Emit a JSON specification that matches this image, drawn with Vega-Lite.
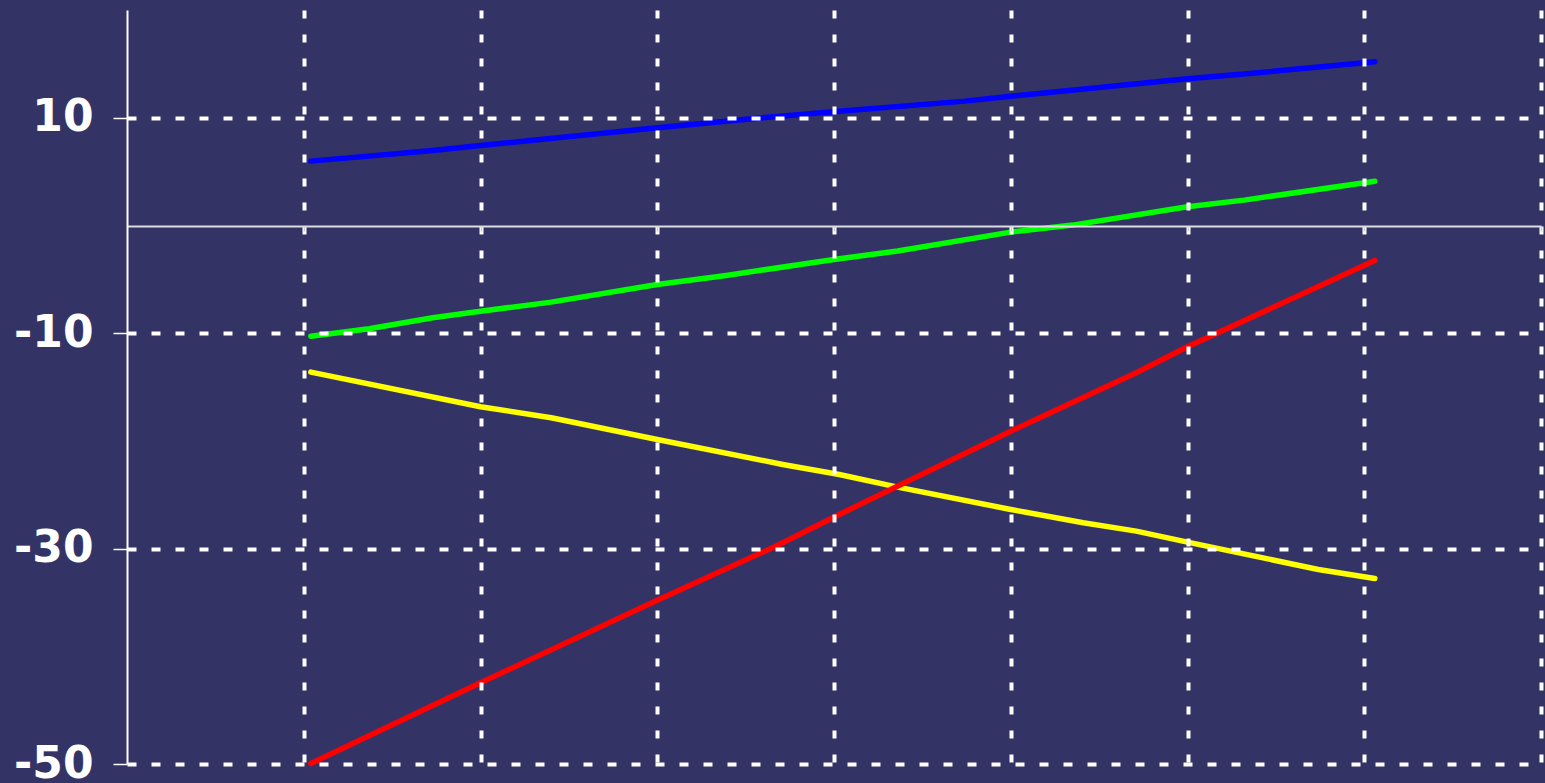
{
  "$schema": "https://vega.github.io/schema/vega-lite/v6.json",
  "autosize": "none",
  "width": 1414,
  "height": 754,
  "padding": {"left": 127, "top": 10, "right": 4, "bottom": 19},
  "background": "#333366",
  "config": {"view": {"stroke": null}},
  "data": {"values": [
    {"s": "blue", "x": 1.04, "y": 5.97},
    {"s": "blue", "x": 1.73, "y": 6.96},
    {"s": "blue", "x": 2.0, "y": 7.43},
    {"s": "blue", "x": 3.0, "y": 9.07},
    {"s": "blue", "x": 3.55, "y": 9.93},
    {"s": "blue", "x": 4.03, "y": 10.61},
    {"s": "blue", "x": 4.74, "y": 11.54},
    {"s": "blue", "x": 5.0, "y": 12.0},
    {"s": "blue", "x": 6.0, "y": 13.62},
    {"s": "blue", "x": 6.4, "y": 14.18},
    {"s": "blue", "x": 7.06, "y": 15.2},
    {"s": "green", "x": 1.04, "y": -10.28},
    {"s": "green", "x": 1.37, "y": -9.59},
    {"s": "green", "x": 1.73, "y": -8.57},
    {"s": "green", "x": 2.0, "y": -7.96},
    {"s": "green", "x": 2.4, "y": -7.12},
    {"s": "green", "x": 3.0, "y": -5.48},
    {"s": "green", "x": 3.39, "y": -4.64},
    {"s": "green", "x": 4.03, "y": -3.09},
    {"s": "green", "x": 4.36, "y": -2.38},
    {"s": "green", "x": 5.0, "y": -0.62},
    {"s": "green", "x": 5.35, "y": 0.03},
    {"s": "green", "x": 6.0, "y": 1.73},
    {"s": "green", "x": 6.32, "y": 2.35},
    {"s": "green", "x": 7.06, "y": 4.11},
    {"s": "yellow", "x": 1.04, "y": -13.62},
    {"s": "yellow", "x": 2.0, "y": -16.83},
    {"s": "yellow", "x": 2.4, "y": -17.86},
    {"s": "yellow", "x": 3.0, "y": -19.87},
    {"s": "yellow", "x": 3.71, "y": -22.19},
    {"s": "yellow", "x": 4.03, "y": -23.12},
    {"s": "yellow", "x": 4.36, "y": -24.3},
    {"s": "yellow", "x": 5.0, "y": -26.37},
    {"s": "yellow", "x": 5.41, "y": -27.6},
    {"s": "yellow", "x": 5.71, "y": -28.38},
    {"s": "yellow", "x": 6.0, "y": -29.4},
    {"s": "yellow", "x": 6.74, "y": -31.94},
    {"s": "yellow", "x": 7.06, "y": -32.78},
    {"s": "red", "x": 1.04, "y": -49.95},
    {"s": "red", "x": 2.0, "y": -42.46},
    {"s": "red", "x": 3.0, "y": -34.79},
    {"s": "red", "x": 3.67, "y": -29.78},
    {"s": "red", "x": 4.03, "y": -26.83},
    {"s": "red", "x": 5.0, "y": -19.1},
    {"s": "red", "x": 5.71, "y": -13.68},
    {"s": "red", "x": 6.0, "y": -11.27},
    {"s": "red", "x": 7.06, "y": -3.25}
  ]},
  "mark": {"type": "line", "strokeWidth": 5.5, "strokeCap": "round", "strokeJoin": "round"},
  "encoding": {
    "x": {
      "field": "x", "type": "quantitative",
      "scale": {"domain": [0, 8], "nice": false, "zero": false},
      "axis": {
        "title": null, "labels": false, "values": [1, 2, 3, 4, 5, 6, 7, 8],
        "offset": -538, "domainColor": "#dddddd", "domainWidth": 2,
        "tickColor": "#cccccc", "tickSize": 5, "tickWidth": 1.5,
        "grid": true, "gridColor": "#ffffff", "gridDash": [8, 16], "gridWidth": 4, "gridOpacity": 1,
        "zindex": 1
      }
    },
    "y": {
      "field": "y", "type": "quantitative",
      "scale": {"domain": [-50, 20], "nice": false, "zero": false},
      "axis": {
        "title": null, "values": [-50, -30, -10, 10],
        "labelExpr": "'' + datum.value",
        "labelFont": "DejaVu Sans", "labelFontWeight": "bold", "labelFontSize": 44,
        "labelColor": "#ffffff", "labelPadding": 20,
        "domainColor": "#ffffff", "domainWidth": 2,
        "tickColor": "#ffffff", "tickSize": 14, "tickWidth": 1.5,
        "grid": true, "gridColor": "#ffffff", "gridDash": [9, 15], "gridWidth": 4, "gridOpacity": 1,
        "zindex": 1
      }
    },
    "color": {
      "field": "s", "type": "nominal",
      "scale": {"domain": ["blue", "green", "yellow", "red"], "range": ["#0000ff", "#00ff00", "#ffff00", "#ff0000"]},
      "legend": null
    }
  }
}
